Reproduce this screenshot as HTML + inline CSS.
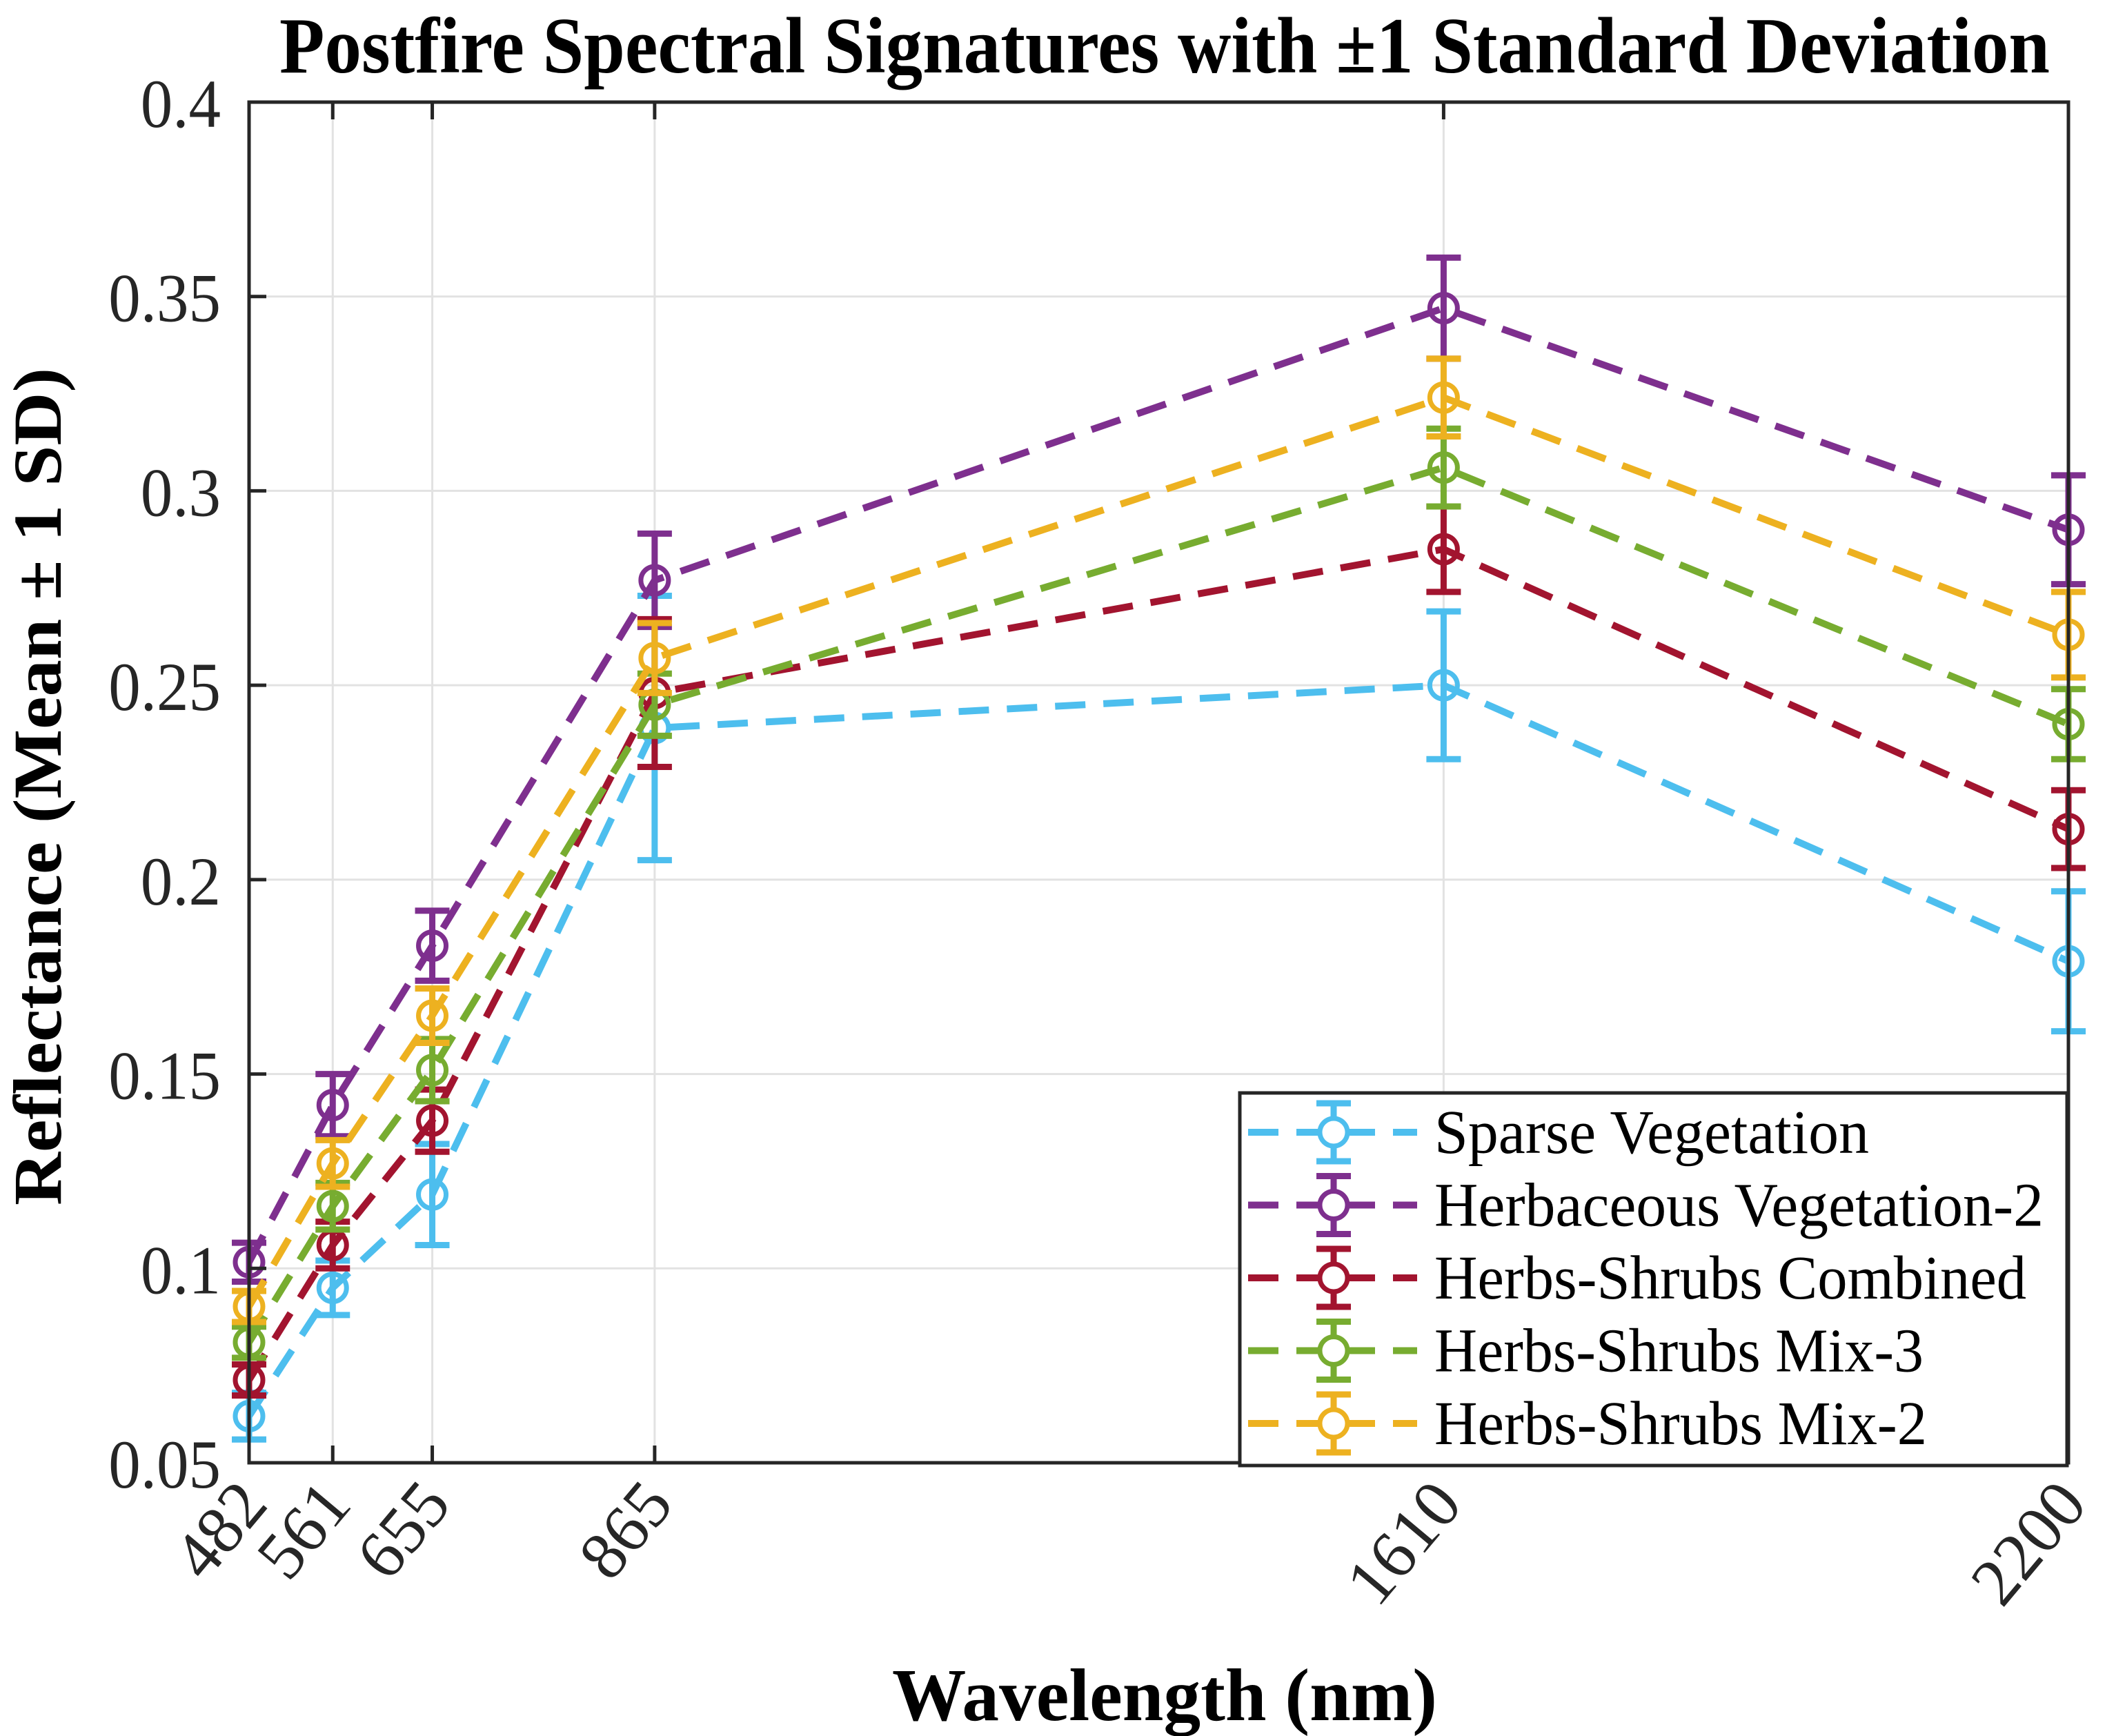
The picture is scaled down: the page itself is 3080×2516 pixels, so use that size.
<!DOCTYPE html>
<html><head><meta charset="utf-8"><style>
html,body{margin:0;padding:0;background:#fff;}
svg{display:block;font-family:"Liberation Serif",serif;}
</style></head><body>
<svg id="chart" width="3080" height="2516" viewBox="0 0 3080 2516" xmlns="http://www.w3.org/2000/svg">
<text x="1688" y="105" text-anchor="middle" font-size="116" font-weight="bold" textLength="2566" lengthAdjust="spacingAndGlyphs">Postfire Spectral Signatures with ±1 Standard Deviation</text>
<g id="grid"></g>
<g id="series"></g>
<g id="axes"></g>
<text transform="translate(88,1140) rotate(-90)" text-anchor="middle" font-size="100" font-weight="bold" textLength="1214" lengthAdjust="spacingAndGlyphs">Reflectance (Mean ± 1 SD)</text>
<text x="1688" y="2493" text-anchor="middle" font-size="108" font-weight="bold" textLength="790" lengthAdjust="spacingAndGlyphs">Wavelength (nm)</text>
<g id="legend"></g>
</svg>
<script>
const wavelengths = [482, 561, 655, 865, 1610, 2200];
const yTicks = [0.05, 0.1, 0.15, 0.2, 0.25, 0.3, 0.35, 0.4];
const yTickLabels = ["0.05", "0.1", "0.15", "0.2", "0.25", "0.3", "0.35", "0.4"];
const seriesNames = ["Sparse Vegetation", "Herbaceous Vegetation-2", "Herbs-Shrubs Combined", "Herbs-Shrubs Mix-3", "Herbs-Shrubs Mix-2"];
const sparseMean = [0.062, 0.095, 0.119, 0.239, 0.250, 0.179];
const sparseSD = [0.006, 0.007, 0.013, 0.034, 0.019, 0.018];
const herbMean = [0.1016, 0.142, 0.183, 0.277, 0.347, 0.290];
const herbSD = [0.005, 0.008, 0.009, 0.012, 0.013, 0.014];
const combMean = [0.0713, 0.106, 0.138, 0.248, 0.285, 0.213];
const combSD = [0.004, 0.006, 0.008, 0.019, 0.011, 0.010];
const mix3Mean = [0.081, 0.116, 0.151, 0.245, 0.306, 0.240];
const mix3SD = [0.004, 0.006, 0.008, 0.008, 0.010, 0.009];
const mix2Mean = [0.0902, 0.127, 0.165, 0.257, 0.324, 0.263];
const mix2SD = [0.004, 0.006, 0.007, 0.009, 0.010, 0.011];

const NS = "http://www.w3.org/2000/svg";
const L = 361, R = 2998, T = 148, B = 2120;
const xMin = 482, xMax = 2200, yMin = 0.05, yMax = 0.4;
const xs = v => L + (v - xMin) / (xMax - xMin) * (R - L);
const ys = v => B - (v - yMin) / (yMax - yMin) * (B - T);
function mk(tag, attrs, parent) {
  const e = document.createElementNS(NS, tag);
  for (const k in attrs) e.setAttribute(k, attrs[k]);
  parent.appendChild(e);
  return e;
}
const grid = document.getElementById('grid');
const axes = document.getElementById('axes');
const seriesG = document.getElementById('series');
const legend = document.getElementById('legend');

yTicks.forEach((t, i) => {
  const y = ys(t);
  const g = mk('line', {x1: L, x2: R, y1: y, y2: y, stroke: '#e2e2e2', 'stroke-width': 3}, grid);
  
  
  const tk = mk('line', {x1: L, x2: L + 25, y1: y, y2: y, stroke: '#262626', 'stroke-width': 5}, axes);
  
  
  const tx = mk('text', {x: 320, y: y + 36, 'text-anchor': 'end', 'font-size': 100, fill: '#262626', transform: `translate(${320*0.07},0) scale(0.93,1)`}, axes);
  tx.setAttribute('x', 320 / 0.93 - 320*0.07/0.93);
  tx.textContent = yTickLabels[i];
  
  
});
wavelengths.forEach(w => {
  const x = xs(w);
  const g = mk('line', {x1: x, x2: x, y1: T, y2: B, stroke: '#e2e2e2', 'stroke-width': 3}, grid);
  
  
  const t1 = mk('line', {x1: x, x2: x, y1: B, y2: B - 25, stroke: '#262626', 'stroke-width': 5}, axes);
  
  
  const t2 = mk('line', {x1: x, x2: x, y1: T, y2: T + 25, stroke: '#262626', 'stroke-width': 5}, axes);
  
  
  const tx = mk('text', {transform: `translate(${x + 30},${B + 62}) rotate(-50)`, 'text-anchor': 'end', 'font-size': 98, fill: '#262626'}, axes);
  tx.textContent = String(w);
  
  
});
const frame = mk('rect', {x: L, y: T, width: R - L, height: B - T, fill: 'none', stroke: '#262626', 'stroke-width': 5}, axes);



const means = [sparseMean, herbMean, combMean, mix3Mean, mix2Mean];
const sds = [sparseSD, herbSD, combSD, mix3SD, mix2SD];
const colors = ['#4DBEEE', '#7E2F8E', '#A2142F', '#77AC30', '#EDB120'];
const keys = ['sparse', 'herbaceous', 'combined', 'mix3', 'mix2'];

means.forEach((m, si) => {
  const g = mk('g', {}, seriesG);
  
  
  const pts = m.map((v, i) => xs(wavelengths[i]) + ',' + ys(v)).join(' ');
  const pl = mk('polyline', {points: pts, fill: 'none', stroke: colors[si], 'stroke-width': 10, 'stroke-dasharray': '44 26'}, g);
  
  
  m.forEach((v, i) => {
    const x = xs(wavelengths[i]);
    const y1 = ys(v + sds[si][i]), y2 = ys(v - sds[si][i]);
    const eb = mk('path', {d: `M${x},${y1}V${y2}M${x - 25},${y1}H${x + 25}M${x - 25},${y2}H${x + 25}`, stroke: colors[si], 'stroke-width': 9, fill: 'none'}, g);
    
    
    const c = mk('circle', {cx: x, cy: ys(v), r: 20, fill: 'none', stroke: colors[si], 'stroke-width': 7}, g);
    
    
  });
});

const legendWidths = [630, 883, 858, 709, 714];
const lb = mk('rect', {x: 1797, y: 1584, width: 1199, height: 540, fill: '#fff', stroke: '#262626', 'stroke-width': 5}, legend);


seriesNames.forEach((n, si) => {
  const cy = 1641 + si * 105.5;
  const g = mk('g', {}, legend);
  
  
  mk('line', {x1: 1809, x2: 2054, y1: cy, y2: cy, stroke: colors[si], 'stroke-width': 10, 'stroke-dasharray': '44 26'}, g);
  mk('path', {d: `M1933,${cy - 42}V${cy + 42}M1908,${cy - 42}H1958M1908,${cy + 42}H1958`, stroke: colors[si], 'stroke-width': 9, fill: 'none'}, g);
  mk('circle', {cx: 1933, cy: cy, r: 20, fill: '#fff', stroke: colors[si], 'stroke-width': 7}, g);
  const t = mk('text', {x: 2079, y: cy + 30, 'font-size': 90, fill: '#000', textLength: legendWidths[si], lengthAdjust: 'spacingAndGlyphs'}, g);
  t.textContent = n;
});
</script>
</body></html>
